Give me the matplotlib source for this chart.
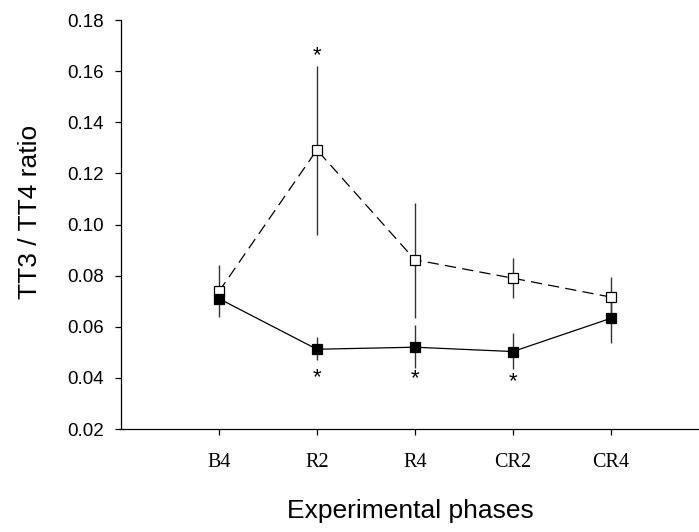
import matplotlib
matplotlib.use('Agg')
import matplotlib.pyplot as plt
import numpy as np

phases = ['B4', 'R2', 'R4', 'CR2', 'CR4']

# open squares, dashed line
open_mean = [0.0738, 0.1292, 0.0862, 0.0790, 0.0716]
open_lo = [0.0738, 0.0960, 0.0636, 0.0712, 0.0638]
open_hi = [0.0841, 0.1620, 0.1086, 0.0868, 0.0794]

# filled squares, solid line
filled_mean = [0.0710, 0.0512, 0.0520, 0.0503, 0.0633]
filled_lo = [0.0639, 0.0469, 0.0440, 0.0434, 0.0536]
filled_hi = [0.0710, 0.0559, 0.0607, 0.0575, 0.0716]

# significance marks: (phase index, y value)
stars = [(1, 0.1660), (1, 0.0400), (2, 0.0396), (3, 0.0386)]

x = np.arange(1, len(phases) + 1)

fig = plt.figure(figsize=(6.99, 5.32), dpi=100)
ax = fig.add_axes([0.1731, 0.1936, 0.8269, 0.7688])

def draw(mean, lo, hi, face, ls):
    mean = np.array(mean)
    err = [mean - np.array(lo), np.array(hi) - mean]
    ax.errorbar(x, mean, yerr=err, fmt='none', ecolor='#333333', elinewidth=1.0, capsize=0, zorder=2)
    ln, = ax.plot(x, mean, color='black', lw=0.9, ls=ls, marker='s', markersize=6.5,
                  markerfacecolor=face, markeredgecolor='black', markeredgewidth=0.9, zorder=3)
    if ls == '--':
        ln.set_dashes([9, 5])

draw(open_mean, open_lo, open_hi, 'white', '--')
draw(filled_mean, filled_lo, filled_hi, 'black', '-')

for i, yv in stars:
    ax.text(x[i], yv, '*', ha='center', va='center', fontsize=16, family='Liberation Sans')

ax.set_xlim(0, 5.9)
ax.set_ylim(0.02, 0.18)
ax.set_xticks(x)
ax.set_xticklabels(phases, family='Liberation Serif', fontsize=14.5)
ax.set_yticks(np.arange(0.02, 0.181, 0.02))
ax.set_yticklabels(['%.2f' % v for v in np.arange(0.02, 0.181, 0.02)], family='Liberation Sans', fontsize=13.5)
ax.tick_params(direction='out', length=4.5, width=0.9)
ax.tick_params(axis='y', pad=8)
ax.tick_params(axis='x', pad=13)
for s in ['top', 'right']:
    ax.spines[s].set_visible(False)
for s in ['left', 'bottom']:
    ax.spines[s].set_linewidth(0.9)

ax.set_xlabel('Experimental phases', family='Liberation Sans', fontsize=19, labelpad=19)
ax.set_ylabel('TT3 / TT4 ratio', family='Liberation Sans', fontsize=19, labelpad=18)
ax.yaxis.label.set_y(0.53)

plt.savefig('out.png', dpi=100)
